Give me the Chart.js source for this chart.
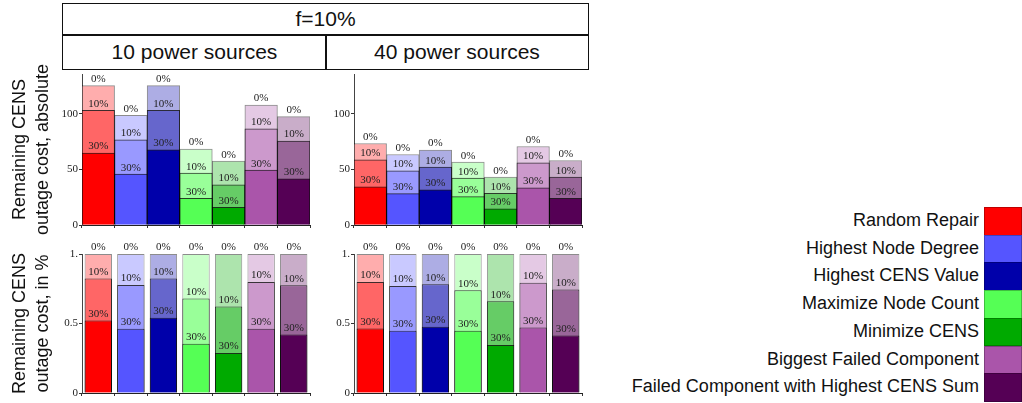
<!DOCTYPE html>
<html>
<head>
<meta charset="utf-8">
<script src="https://cdn.jsdelivr.net/npm/chart.js@4/dist/chart.umd.min.js"></script>
<style>
  body { margin: 0; background: #fff; width: 1022px; height: 403px; position: relative; overflow: hidden; font-family: "Liberation Sans", Arial, sans-serif; }
  canvas { position: absolute; }
  .hdr { position: absolute; box-sizing: border-box; border: 1.5px solid #111; text-align: center; font-size: 21px; color: #111; }
  .leg { position: absolute; left: 600px; width: 379px; text-align: right; font-size: 18px; color: #111; }
  .sw { position: absolute; left: 984px; width: 38px; box-sizing: border-box; border: 1px solid rgba(0,0,0,0.25); }
</style>
</head>
<body>
<div class="hdr" style="left:62px;top:3px;width:527px;height:33px;line-height:30px">f=10%</div>
<div class="hdr" style="left:62px;top:34px;width:265px;height:36px;line-height:33px">10 power sources</div>
<div class="hdr" style="left:325px;top:34px;width:264px;height:36px;line-height:33px">40 power sources</div>

<canvas id="abs10" width="320" height="177" style="left:0;top:58px"></canvas>
<canvas id="abs40" width="262" height="177" style="left:330px;top:58px"></canvas>
<canvas id="pct10" width="320" height="167" style="left:0;top:236px"></canvas>
<canvas id="pct40" width="262" height="167" style="left:330px;top:236px"></canvas>
<div id="legend"></div>

<script>
const strategies = [
  "Random Repair",
  "Highest Node Degree",
  "Highest CENS Value",
  "Maximize Node Count",
  "Minimize CENS",
  "Biggest Failed Component",
  "Failed Component with Highest CENS Sum"
];
const layers = ["30%", "10%", "0%"];

// remaining CENS, absolute
const abs10_30 = [64.8, 45.8, 67.8, 24.1, 16.0, 49.4, 41.6];
const abs10_10 = [103.3, 76.8, 103.3, 46.7, 36.1, 86.7, 75.6];
const abs10_0 = [125.6, 98.8, 125.6, 68.4, 57.5, 108.1, 97.6];
const abs40_30 = [34.3, 28.3, 31.6, 25.6, 14.5, 33.4, 24.1];
const abs40_10 = [58.7, 48.8, 52.1, 42.2, 28.6, 56.0, 43.1];
const abs40_0 = [73.4, 63.5, 67.5, 56.6, 43.1, 70.7, 58.1];

// remaining CENS, relative
const pct10_30 = [0.521, 0.462, 0.541, 0.354, 0.287, 0.462, 0.421];
const pct10_10 = [0.823, 0.777, 0.823, 0.679, 0.622, 0.799, 0.775];
const pct10_0 = [1, 1, 1, 1, 1, 1, 1];
const pct40_30 = [0.464, 0.447, 0.476, 0.447, 0.345, 0.471, 0.413];
const pct40_10 = [0.799, 0.770, 0.782, 0.739, 0.660, 0.794, 0.744];
const pct40_0 = [1, 1, 1, 1, 1, 1, 1];

const absTicks = [0, 50, 100];
const pctTicks = [0, 0.5, 1];

const baseColors = ["#FF0000", "#5555FF", "#0000AA", "#55FF55", "#00AA00", "#AA55AA", "#550055"];

// blend a colour with white
function mix(hex, a) {
  const n = parseInt(hex.slice(1), 16);
  const f = c => Math.round(255 - a * (255 - c));
  return `rgb(${f(n >> 16)},${f((n >> 8) & 255)},${f(n & 255)})`;
}

const barLabels = {
  id: "barLabels",
  afterDatasetsDraw(chart) {
    const ctx = chart.ctx;
    ctx.save();
    ctx.font = "11px 'Liberation Serif', serif";
    ctx.fillStyle = "#222";
    ctx.textAlign = "center";
    ctx.textBaseline = "bottom";
    chart.data.datasets.forEach((ds, i) => {
      chart.getDatasetMeta(i).data.forEach(bar => {
        ctx.fillText(ds.label, bar.x, bar.y - 1);
      });
    });
    ctx.restore();
  }
};

function makePanel(id, d30, d10, d0, cfg) {
  const sets = [d30, d10, d0];
  const alphas = [1, 0.6, 0.32];
  const borders = ["rgba(0,0,0,0.75)", "rgba(0,0,0,0.75)", "rgba(0,0,0,0.45)"];
  const tickVals = cfg.ticks;
  return new Chart(document.getElementById(id), {
    type: "bar",
    data: {
      labels: strategies,
      datasets: sets.map((d, i) => ({
        label: layers[i],
        data: d,
        backgroundColor: baseColors.map(c => mix(c, alphas[i])),
        borderColor: borders[i],
        borderWidth: 1,
        grouped: false,
        barPercentage: cfg.barPct,
        categoryPercentage: 1
      }))
    },
    options: {
      responsive: false,
      animation: false,
      layout: { padding: { top: cfg.padTop, right: 10, left: 0, bottom: 0 } },
      plugins: { legend: { display: false }, tooltip: { enabled: false } },
      scales: {
        x: {
          grid: { offset: true, drawOnChartArea: false, tickLength: 3, color: "#333" },
          border: { color: "#222" },
          ticks: { display: false },
          afterFit: s => { s.height = 10; }
        },
        y: {
          min: 0,
          max: cfg.max,
          grid: { drawOnChartArea: false, tickLength: 3, color: "#333" },
          border: { color: "#444" },
          afterBuildTicks: s => { s.ticks = tickVals.map(v => ({ value: v })); },
          ticks: {
            padding: 1,
            color: "#222",
            font: { family: "'Liberation Serif', serif", size: 11 },
            callback: v => (v === 1 ? "1." : String(v))
          },
          title: {
            display: !!cfg.title,
            text: cfg.title,
            color: "#111",
            padding: { top: 9, bottom: 0 },
            font: { family: "'Liberation Sans', Arial, sans-serif", size: 18, lineHeight: 1.25 }
          },
          afterFit: s => { s.width = cfg.axisW; }
        }
      }
    },
    plugins: [barLabels]
  });
}

makePanel("abs10", abs10_30, abs10_10, abs10_0,
  { max: 136, ticks: absTicks, barPct: 1, padTop: 16, axisW: 82, title: ["Remaining CENS", "outage cost, absolute"] });
makePanel("abs40", abs40_30, abs40_10, abs40_0,
  { max: 136, ticks: absTicks, barPct: 1, padTop: 16, axisW: 24 });
makePanel("pct10", pct10_30, pct10_10, pct10_0,
  { max: 1, ticks: pctTicks, barPct: 0.84, padTop: 18, axisW: 82, title: ["Remaining CENS", "outage cost, in %"] });
makePanel("pct40", pct40_30, pct40_10, pct40_0,
  { max: 1, ticks: pctTicks, barPct: 0.84, padTop: 18, axisW: 24 });

// legend
const legend = document.getElementById("legend");
const rowH = 27.7;
strategies.forEach((name, i) => {
  const top = 207 + i * rowH;
  const t = document.createElement("div");
  t.className = "leg";
  t.style.top = top + "px";
  t.style.height = rowH + "px";
  t.style.lineHeight = rowH + "px";
  t.textContent = name;
  legend.appendChild(t);
  const s = document.createElement("div");
  s.className = "sw";
  s.style.top = top + "px";
  s.style.height = (rowH + 1) + "px";
  s.style.background = baseColors[i];
  legend.appendChild(s);
});
</script>
</body>
</html>
